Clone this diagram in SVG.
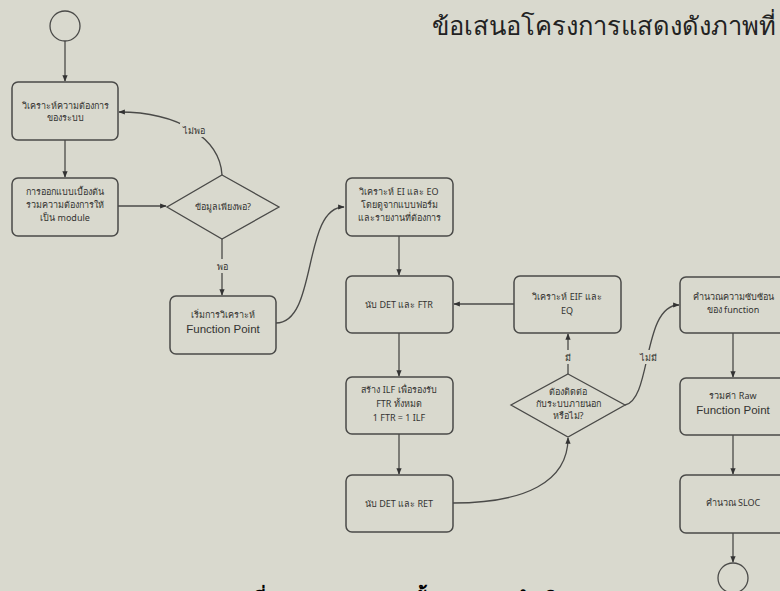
<svg xmlns="http://www.w3.org/2000/svg" width="780" height="591" viewBox="0 0 780 591">
<style>
.bg{fill:#d9d9ce}
.box{fill:#d9d9ce;stroke:#4a4a48;stroke-width:1.5}
.dia{fill:#d9d9ce;stroke:#4a4a48;stroke-width:1.3}
.t{font-family:"Noto Sans","DejaVu Sans",sans-serif;font-size:9px;fill:#333331;text-anchor:middle}
.tl{font-family:"Liberation Sans","Noto Sans",sans-serif;font-size:11.5px;fill:#333331;text-anchor:middle}
.lbl{font-family:"Noto Sans","DejaVu Sans",sans-serif;font-size:9px;fill:#333331;text-anchor:middle}
.c{fill:none;stroke:#4a4a48;stroke-width:1.3}
.e{fill:none;stroke:#4a4a48;stroke-width:1.3}
.title{font-family:"Noto Sans","DejaVu Sans",sans-serif;font-size:25.5px;fill:#222}
.cap{font-family:"Noto Sans","DejaVu Sans",sans-serif;font-size:20px;font-weight:bold;fill:#000}
</style>
<defs>
<marker id="ah" viewBox="0 0 10 10" refX="9" refY="5" markerWidth="5" markerHeight="5" orient="auto-start-reverse">
<path d="M0,1 L10,5 L0,9 z" fill="#333"/>
</marker>
</defs>
<rect class="bg" x="0" y="0" width="780" height="591"/>
<text class="title" x="432" y="35">ข้อเสนอโครงการแสดงดังภาพที่</text>
<text class="cap" x="216" y="606">ภาพที่ 1 แผนภาพแสดงขั้นตอนการดำเนินงาน</text>

<g id="connectors">
<path class="c" d="M65,41 L65,81" marker-end="url(#ah)"/>
<path class="c" d="M65,140 L65,177" marker-end="url(#ah)"/>
<path class="c" d="M118,206 L166,206" marker-end="url(#ah)"/>
<path class="c" d="M222,175 C220,138 178,112 119,112" marker-end="url(#ah)"/>
<path class="c" d="M222,239 L222,295" marker-end="url(#ah)"/>
<path class="c" d="M276,323 C318,323 302,207 344,207" marker-end="url(#ah)"/>
<path class="c" d="M399,236 L399,275" marker-end="url(#ah)"/>
<path class="c" d="M514,304 L454,304" marker-end="url(#ah)"/>
<path class="c" d="M399,333 L399,376" marker-end="url(#ah)"/>
<path class="c" d="M399,434 L399,474" marker-end="url(#ah)"/>
<path class="c" d="M453,503 C525,503 568,482 568,438" marker-end="url(#ah)"/>
<path class="c" d="M568,374 L568,334" marker-end="url(#ah)"/>
<path class="c" d="M625,405 C652,400 642,305 679,305" marker-end="url(#ah)"/>
<path class="c" d="M733,333 L733,377" marker-end="url(#ah)"/>
<path class="c" d="M733,435 L733,474" marker-end="url(#ah)"/>
<path class="c" d="M733,533 L733,562" marker-end="url(#ah)"/>
<rect class="bg" x="180" y="123" width="28" height="14"/>
<text class="lbl" x="194" y="134">ไม่พอ</text>
<rect class="bg" x="214" y="259" width="16" height="14"/>
<text class="lbl" x="222" y="270">พอ</text>
<rect class="bg" x="561" y="350" width="14" height="14"/>
<text class="lbl" x="568" y="361">มี</text>
<rect class="bg" x="637" y="350" width="24" height="14"/>
<text class="lbl" x="648" y="361">ไม่มี</text>
</g>

<g id="start"><circle class="e" cx="65" cy="26" r="15"/></g>
<g id="n1">
<rect class="box" x="12" y="82" width="106" height="58" rx="6"/>
<text class="t" x="65" y="109">วิเคราะห์ความต้องการ</text>
<text class="t" x="65" y="121">ของระบบ</text>
</g>
<g id="n2">
<rect class="box" x="12" y="178" width="106" height="58" rx="6"/>
<text class="t" x="65" y="195">การออกแบบเบื้องต้น</text>
<text class="t" x="65" y="208">รวมความต้องการให้</text>
<text class="t" x="65" y="221">เป็น module</text>
</g>
<g id="d1">
<polygon class="dia" points="222,175 279,207 222,239 167,207"/>
<text class="t" x="223" y="210">ข้อมูลเพียงพอ?</text>
</g>
<g id="n3">
<rect class="box" x="170" y="296" width="106" height="58" rx="6"/>
<text class="t" x="223" y="318">เริ่มการวิเคราะห์</text>
<text class="tl" x="223" y="333">Function Point</text>
</g>
<g id="n4">
<rect class="box" x="346" y="178" width="107" height="58" rx="6"/>
<text class="t" x="399" y="195">วิเคราะห์ EI และ EO</text>
<text class="t" x="399" y="208">โดยดูจากแบบฟอร์ม</text>
<text class="t" x="399" y="221">และรายงานที่ต้องการ</text>
</g>
<g id="n5">
<rect class="box" x="346" y="276" width="107" height="57" rx="6"/>
<text class="t" x="399" y="308">นับ DET และ FTR</text>
</g>
<g id="n6">
<rect class="box" x="346" y="377" width="107" height="57" rx="6"/>
<text class="t" x="399" y="393">สร้าง ILF เพื่อรองรับ</text>
<text class="t" x="399" y="407">FTR ทั้งหมด</text>
<text class="t" x="399" y="421">1 FTR = 1 ILF</text>
</g>
<g id="n7">
<rect class="box" x="346" y="475" width="107" height="57" rx="6"/>
<text class="t" x="399" y="507">นับ DET และ RET</text>
</g>
<g id="n8">
<rect class="box" x="514" y="276" width="107" height="57" rx="6"/>
<text class="t" x="567" y="300">วิเคราะห์ EIF และ</text>
<text class="t" x="567" y="314">EQ</text>
</g>
<g id="d2">
<polygon class="dia" points="568,374 625,405 568,437 511,405"/>
<text class="t" x="568" y="395">ต้องติดต่อ</text>
<text class="t" x="568" y="407">กับระบบภายนอก</text>
<text class="t" x="568" y="419">หรือไม่?</text>
</g>
<g id="n9">
<rect class="box" x="680" y="277" width="107" height="56" rx="6"/>
<text class="t" x="733" y="300">คำนวณความซับซ้อน</text>
<text class="t" x="733" y="313">ของ function</text>
</g>
<g id="n10">
<rect class="box" x="680" y="378" width="107" height="57" rx="6"/>
<text class="t" x="733" y="399">รวมค่า Raw</text>
<text class="tl" x="733" y="414">Function Point</text>
</g>
<g id="n11">
<rect class="box" x="680" y="475" width="107" height="58" rx="6"/>
<text class="t" x="733" y="506">คำนวณ SLOC</text>
</g>
<g id="end"><circle class="e" cx="733" cy="578" r="15"/></g>
</svg>
